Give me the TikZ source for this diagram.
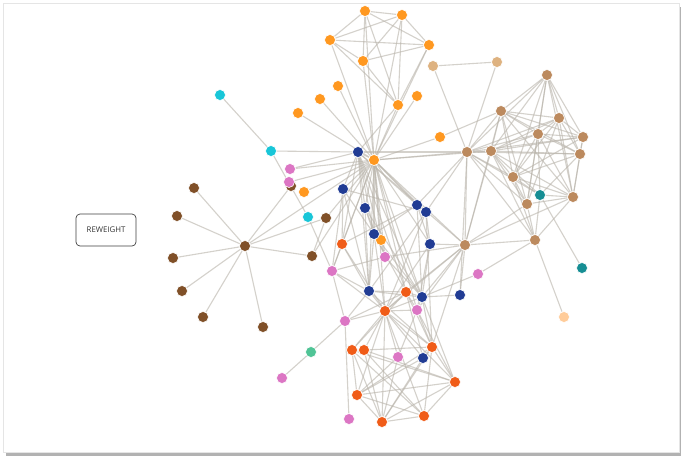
\documentclass[tikz,border=0pt]{standalone}
\usepackage{fontspec}
\usepackage{xcolor}
\usepackage{tikz}
\usetikzlibrary{backgrounds}
\newfontfamily\btnfont{Open Sans}
\definecolor{C1}{RGB}{255,152,32}   % orange
\definecolor{C2}{RGB}{33,60,148}    % navy
\definecolor{C3}{RGB}{240,92,24}    % red-orange
\definecolor{C4}{RGB}{220,118,196}  % pink
\definecolor{C5}{RGB}{128,80,40}    % dark brown
\definecolor{C6}{RGB}{188,138,94}   % tan
\definecolor{C7}{RGB}{222,178,128}  % light tan
\definecolor{C8}{RGB}{24,198,216}   % cyan
\definecolor{C9}{RGB}{22,142,148}   % teal
\definecolor{C10}{RGB}{80,196,150}  % green
\definecolor{C11}{RGB}{255,204,154} % peach
\definecolor{CL}{RGB}{186,181,172}

\begin{document}
\begin{tikzpicture}[x=1pt,y=-1pt,
      dot/.style={circle,inner sep=0pt,minimum size=11pt,
                  draw=white,line width=0.6pt},
      link/.style={draw=CL,line width=1.1pt,draw opacity=0.62},
      btn/.style={draw=black!75,rounded corners=4pt,line width=0.7pt,
                  minimum width=60pt,minimum height=32pt,
                  font=\btnfont\fontsize{7.8}{9}\selectfont,text=black!80}]
    \useasboundingbox (0,0) rectangle (684,459);
    % orange
    \node[dot,fill=C1] (o1) at (365,11) {};
    \node[dot,fill=C1] (o2) at (402,15) {};
    \node[dot,fill=C1] (o3) at (330,40) {};
    \node[dot,fill=C1] (o4) at (429,45) {};
    \node[dot,fill=C1] (o5) at (363,61) {};
    \node[dot,fill=C1] (o6) at (338,86) {};
    \node[dot,fill=C1] (o7) at (320,99) {};
    \node[dot,fill=C1] (o8) at (298,113) {};
    \node[dot,fill=C1] (o9) at (398,105) {};
    \node[dot,fill=C1] (o10) at (417,96) {};
    \node[dot,fill=C1] (o11) at (440,137) {};
    \node[dot,fill=C2] (nv) at (358,152) {};
    \node[dot,fill=C1] (vj) at (374,160) {};
    \node[dot,fill=C1] (o12) at (304,192) {};
    \node[dot,fill=C1] (o13) at (381,240) {};
    % navy
    \node[dot,fill=C2] (n2) at (343,189) {};
    \node[dot,fill=C2] (n3) at (365,208) {};
    \node[dot,fill=C2] (n4) at (417,205) {};
    \node[dot,fill=C2] (n5) at (426,212) {};
    \node[dot,fill=C2] (n6) at (374,234) {};
    \node[dot,fill=C2] (n7) at (430,244) {};
    \node[dot,fill=C2] (n8) at (369,291) {};
    \node[dot,fill=C2] (n9) at (422,297) {};
    \node[dot,fill=C2] (n10) at (460,295) {};
    \node[dot,fill=C2] (n11) at (423,358) {};
    % red
    \node[dot,fill=C3] (r1) at (342,244) {};
    \node[dot,fill=C3] (r2) at (406,292) {};
    \node[dot,fill=C3] (r3) at (385,311) {};
    \node[dot,fill=C3] (r4) at (352,350) {};
    \node[dot,fill=C3] (r5) at (364,350) {};
    \node[dot,fill=C3] (r6) at (432,347) {};
    \node[dot,fill=C3] (r7) at (455,382) {};
    \node[dot,fill=C3] (r8) at (357,395) {};
    \node[dot,fill=C3] (r9) at (382,422) {};
    \node[dot,fill=C3] (r10) at (424,416) {};
    % brown
    \node[dot,fill=C5] (my) at (245,246) {};
    \node[dot,fill=C5] (m1) at (194,188) {};
    \node[dot,fill=C5] (m2) at (177,216) {};
    \node[dot,fill=C5] (m3) at (173,258) {};
    \node[dot,fill=C5] (m4) at (182,291) {};
    \node[dot,fill=C5] (m5) at (203,317) {};
    \node[dot,fill=C5] (m6) at (263,327) {};
    \node[dot,fill=C5] (m7) at (326,218) {};
    \node[dot,fill=C5] (m8) at (312,256) {};
    \node[dot,fill=C5] (m9) at (291,186) {};
    % pink
    \node[dot,fill=C4] (p1) at (290,169) {};
    \node[dot,fill=C4] (p2) at (289,182) {};
    \node[dot,fill=C4] (p3) at (385,257) {};
    \node[dot,fill=C4] (p4) at (332,271) {};
    \node[dot,fill=C4] (p5) at (478,274) {};
    \node[dot,fill=C4] (p6) at (417,310) {};
    \node[dot,fill=C4] (p7) at (345,321) {};
    \node[dot,fill=C4] (p8) at (282,378) {};
    \node[dot,fill=C4] (p9) at (398,357) {};
    \node[dot,fill=C4] (p10) at (349,419) {};
    % tan
    \node[dot,fill=C6] (t1) at (547,75) {};
    \node[dot,fill=C6] (t2) at (501,111) {};
    \node[dot,fill=C6] (t3) at (559,118) {};
    \node[dot,fill=C6] (t4) at (538,134) {};
    \node[dot,fill=C6] (t5) at (583,137) {};
    \node[dot,fill=C6] (t6) at (580,154) {};
    \node[dot,fill=C6] (gv) at (467,152) {};
    \node[dot,fill=C6] (t8) at (491,151) {};
    \node[dot,fill=C6] (t9) at (513,177) {};
    \node[dot,fill=C6] (t10) at (573,197) {};
    \node[dot,fill=C6] (t11) at (527,204) {};
    \node[dot,fill=C6] (t13) at (465,245) {};
    \node[dot,fill=C6] (t15) at (535,240) {};
    \node[dot,fill=C7] (l1) at (433,66) {};
    \node[dot,fill=C7] (l2) at (497,62) {};
    % others
    \node[dot,fill=C8] (c0) at (220,95) {};
    \node[dot,fill=C8] (c1) at (271,151) {};
    \node[dot,fill=C8] (c2) at (308,217) {};
    \node[dot,fill=C9] (k1) at (540,195) {};
    \node[dot,fill=C9] (k2) at (582,268) {};
    \node[dot,fill=C10] (g1) at (311,352) {};
    \node[dot,fill=C11] (pc) at (564,317) {};

    \node[btn] (reweight) at (106,230) {REWEIGHT};

    \begin{scope}[on background layer]
      \fill[black!30] (6,7) rectangle (681,456);
      \fill[white,draw=black!10] (3,3) rectangle (679,452);
      \foreach \a/\b in {o1/o2,o1/o3,o1/o4,o1/o5,o1/o9,o2/o3,o2/o4,o2/o5,o2/o9,
          o3/o4,o3/o5,o3/o9,o4/o5,o4/o9,o5/o9,
          vj/o1,vj/o2,vj/o3,vj/o4,vj/o5,vj/o9,vj/o6,vj/o7,vj/o8,vj/o10,vj/o11,
          vj/o12,vj/o13,o9/nv,o11/t2,l1/l2,l1/gv,l2/gv,
          c0/c1,c1/nv,c1/c2,c2/p4,
          my/m1,my/m2,my/m3,my/m4,my/m5,my/m6,my/m7,my/m8,my/m9,my/vj,
          m7/m8,m7/vj,m8/vj,p1/vj,p1/nv,p2/vj,
          vj/nv,vj/gv,nv/gv,vj/t8,
          vj/n2,vj/n3,vj/n4,vj/n5,vj/n6,vj/n7,vj/n8,vj/n9,vj/r1,vj/r2,vj/r3,
          vj/p3,vj/p4,vj/t13,vj/p6,
          nv/n2,nv/n3,nv/n6,nv/n8,nv/r2,nv/p3,nv/n9,nv/r1,nv/n4,nv/t13,
          gv/t1,gv/t2,gv/t3,gv/t4,gv/t5,gv/t6,gv/t8,gv/t9,gv/t11,gv/t13,gv/t15,
          gv/k1,gv/n4,gv/n5,gv/n10,
          t8/t1,t8/t2,t8/t3,t8/t4,t8/t5,t8/t6,t8/t9,t8/t10,t8/t11,t8/t13,
          t8/t15,t8/k1,
          t1/t2,t1/t3,t1/t4,t1/t5,t1/t6,t1/t9,t1/t10,t1/t11,
          t2/t3,t2/t4,t2/t5,t2/t6,t2/t9,t2/t11,t2/t10,t2/t13,
          t3/t4,t3/t5,t3/t6,t3/t9,t3/t10,t3/t11,
          t4/t5,t4/t6,t4/t9,t4/t11,t4/t10,t4/k1,
          t5/t6,t5/t10,t5/t9,t6/t10,t6/t9,t6/k1,
          t9/t11,t9/t15,t9/k1,t9/t10,t10/t11,t10/t15,t10/k1,t10/t13,
          t11/t15,t11/t13,k1/t15,k1/k2,t13/t15,t15/pc,t15/p5,
          t13/n7,t13/n9,t13/n10,t13/r2,t13/p6,t13/r3,t13/r6,t13/p3,n10/n9,
          n2/n6,n2/n5,n2/r1,n2/n8,n2/p4,
          n3/n6,n3/n8,n3/p3,n3/n9,
          n4/n5,n4/n7,n4/n9,n4/r1,n4/n6,
          n5/n7,n5/n8,n5/r6,n5/r3,
          n6/o13,n6/n8,n6/r2,n6/n9,n6/r3,
          n7/n9,n7/r3,n7/p6,
          n8/r2,n8/n9,n8/r3,n8/p4,n8/p7,n8/r6,n8/r1,
          r2/n9,r2/r3,r2/p6,r2/r6,r2/r4,r2/p7,r2/n11,
          n9/r6,n9/p6,n9/r3,n9/r7,p5/n9,
          p3/p4,p3/n9,p4/r3,p4/p7,p4/r1,r1/r3,
          p6/r6,p6/r7,p6/r3,p6/p9,
          r3/r4,r3/r5,r3/r6,r3/r7,r3/r8,r3/r9,r3/r10,r3/p9,r3/n11,r3/p7,
          p7/g1,g1/p8,p7/p10,
          r4/r8,r4/r9,r4/r10,r4/r7,
          r5/r6,r5/r9,r5/r10,r5/r7,
          p9/r9,p9/r8,n11/r8,n11/r9,n11/r6,
          r6/r7,r6/r10,r6/r8,r6/r9,
          r7/r8,r7/r9,r7/r10,r8/r9,r8/r10,r9/r10}
        \draw[link] (\a) -- (\b);
    \end{scope}
  \end{tikzpicture}
\end{document}
